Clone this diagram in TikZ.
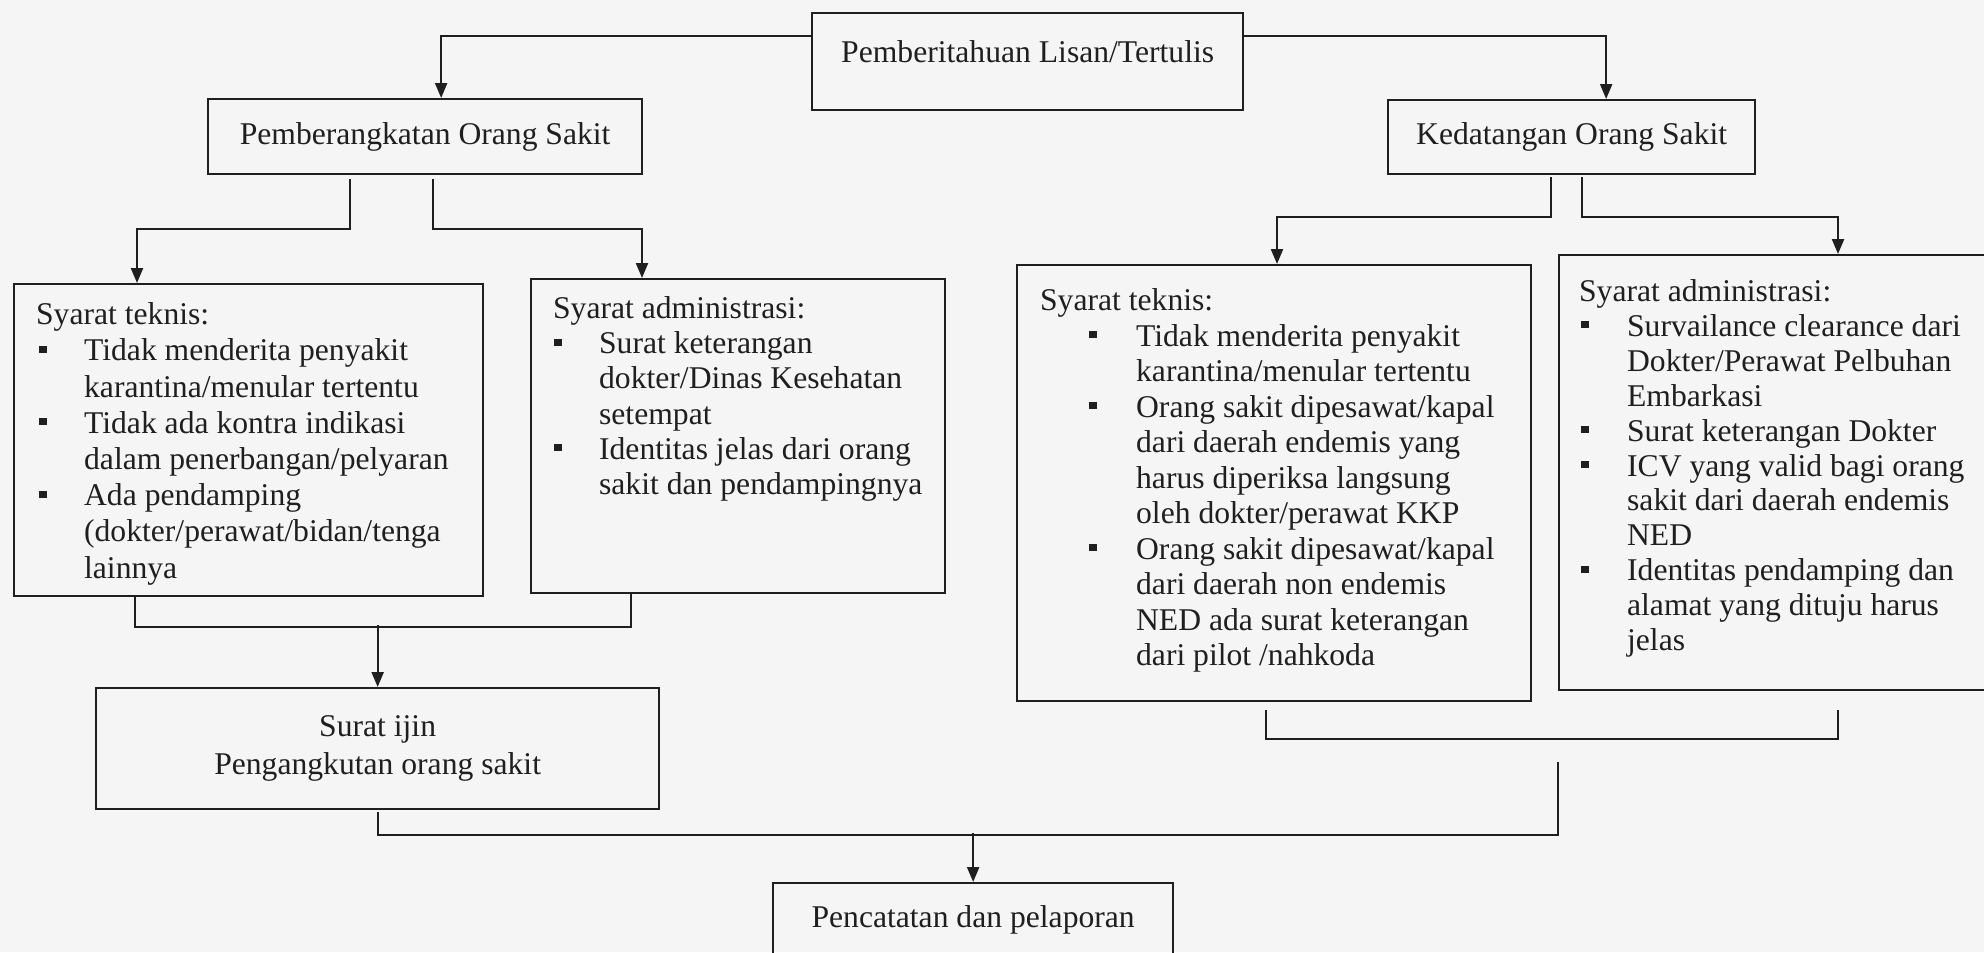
\documentclass[tikz,border=0pt]{standalone}
\usepackage{fontspec}
\setmainfont{Liberation Serif}
\usetikzlibrary{arrows.meta,calc}
\newcommand{\itm}[2]{\par\hangindent=#2\hangafter=1\noindent\makebox[#2][l]{\hspace*{#1}\rule[1.6mm]{1.5mm}{1.4mm}}\ignorespaces}
\tikzset{
	box/.style={draw, line width=1.3pt, inner sep=0pt, anchor=north west, font=\fontsize{18pt}{21.5pt}\selectfont},
	arr/.style={line width=1.3pt, -{Triangle[length=3mm,width=2.4mm]}},
	link/.style={line width=1.3pt}
}
\begin{document}
\begin{tikzpicture}[x=0.2mm, y=-0.2mm, color=black!88]
	\fill[black!4] (0,0) rectangle (1984,952);
	\useasboundingbox (0,0) rectangle (1984,952);
	\node[box, minimum width=86.2mm, minimum height=19.4mm, text depth=11.5pt] (lapor) at (811,12) {Pemberitahuan Lisan/Tertulis};
	\node[box, minimum width=86.8mm, minimum height=15mm] (berangkat) at (207,98) {Pemberangkatan Orang Sakit};
	\node[box, minimum width=73.4mm, minimum height=14.8mm] (datang) at (1387,99) {Kedatangan Orang Sakit};
	\node[box, minimum width=93.8mm, minimum height=62.4mm, font=\fontsize{18pt}{20.6pt}\selectfont] (teknisA) at (13,283) {\hspace*{4.4mm}\parbox[c][62.4mm][t]{89.4mm}{\rule{0pt}{8.1mm}Syarat teknis:
		\itm{0.6mm}{9.6mm}Tidak menderita penyakit\\karantina/menular tertentu
		\itm{0.6mm}{9.6mm}Tidak ada kontra indikasi\\dalam penerbangan/pelyaran
		\itm{0.6mm}{9.6mm}Ada pendamping\\(dokter/perawat/bidan/tenga\\lainnya}};
	\node[box, minimum width=82.8mm, minimum height=62.8mm, font=\fontsize{18pt}{20pt}\selectfont] (adminA) at (530,278) {\hspace*{4.4mm}\parbox[c][62.8mm][t]{78.4mm}{\rule{0pt}{7.9mm}Syarat administrasi:
		\itm{0.2mm}{9.2mm}Surat keterangan\\dokter/Dinas Kesehatan\\setempat
		\itm{0.2mm}{9.2mm}Identitas jelas dari orang\\sakit dan pendampingnya}};
	\node[box, minimum width=102.8mm, minimum height=87.2mm, font=\fontsize{18pt}{20.2pt}\selectfont] (teknisB) at (1016,264) {\hspace*{4.6mm}\parbox[c][87.2mm][t]{98.2mm}{\rule{0pt}{9.1mm}Syarat teknis:
		\itm{9.8mm}{19.2mm}Tidak menderita penyakit\\karantina/menular tertentu
		\itm{9.8mm}{19.2mm}Orang sakit dipesawat/kapal\\dari daerah endemis yang\\harus diperiksa langsung\\oleh dokter/perawat KKP
		\itm{9.8mm}{19.2mm}Orang sakit dipesawat/kapal\\dari daerah non endemis\\NED ada surat keterangan\\dari pilot /nahkoda}};
	\node[box, minimum width=87.4mm, minimum height=87mm, font=\fontsize{18pt}{19.9pt}\selectfont] (adminB) at (1558,254) {\hspace*{4mm}\parbox[c][87mm][t]{83.4mm}{\rule{0pt}{9.2mm}Syarat administrasi:
		\itm{0.4mm}{9.6mm}Survailance clearance dari\\Dokter/Perawat Pelbuhan\\Embarkasi
		\itm{0.4mm}{9.6mm}Surat keterangan Dokter
		\itm{0.4mm}{9.6mm}ICV yang valid bagi orang\\sakit dari daerah endemis\\NED
		\itm{0.4mm}{9.6mm}Identitas pendamping dan\\alamat yang dituju harus\\jelas}};
	\node[box, align=center, minimum width=112.6mm, minimum height=24.2mm] (ijin) at (95,687) {Surat ijin\\Pengangkutan orang sakit};
	\node[box, minimum width=80mm, minimum height=14.8mm] (catat) at (772,882) {Pencatatan dan pelaporan};
	\draw[arr] ($(lapor.north west)+(0,24)$) -| ($(berangkat.north)+(16,0)$);
	\draw[arr] ($(lapor.north east)+(0,24)$) -| ($(datang.north)+(34.5,0)$);
	\draw[arr] ($(berangkat.south)+(-75,4)$) -- ++(0,50) -| ($(teknisA.north west)+(124,0)$);
	\draw[arr] ($(berangkat.south)+(8,4)$) -- ++(0,50) -| ($(adminA.north west)+(112,0)$);
	\draw[arr] ($(datang.south)+(-20.5,2)$) -- ++(0,40) -| ($(teknisB.north west)+(261,0)$);
	\draw[arr] ($(datang.south)+(10.5,2)$) -- ++(0,40) -| ($(adminB.north west)+(280,0)$);
	\draw[link] ($(teknisA.south west)+(122,0)$) |- ($(adminA.south west)+(101,33)$) -- ($(adminA.south west)+(101,0)$);
	\draw[arr] ($(ijin.north)+(0,-62)$) -- (ijin.north);
	\draw[link] ($(teknisB.south)+(-8,8)$) |- ($(adminB.south west)+(280,48)$) -- ($(adminB.south west)+(280,19)$);
	\draw[link] ($(adminB.south west)+(0,71)$) |- ($(ijin.south)+(0,25)$) -- ($(ijin.south)+(0,2)$);
	\draw[arr] ($(catat.north)+(0,-49)$) -- (catat.north);
\end{tikzpicture}
\end{document}
